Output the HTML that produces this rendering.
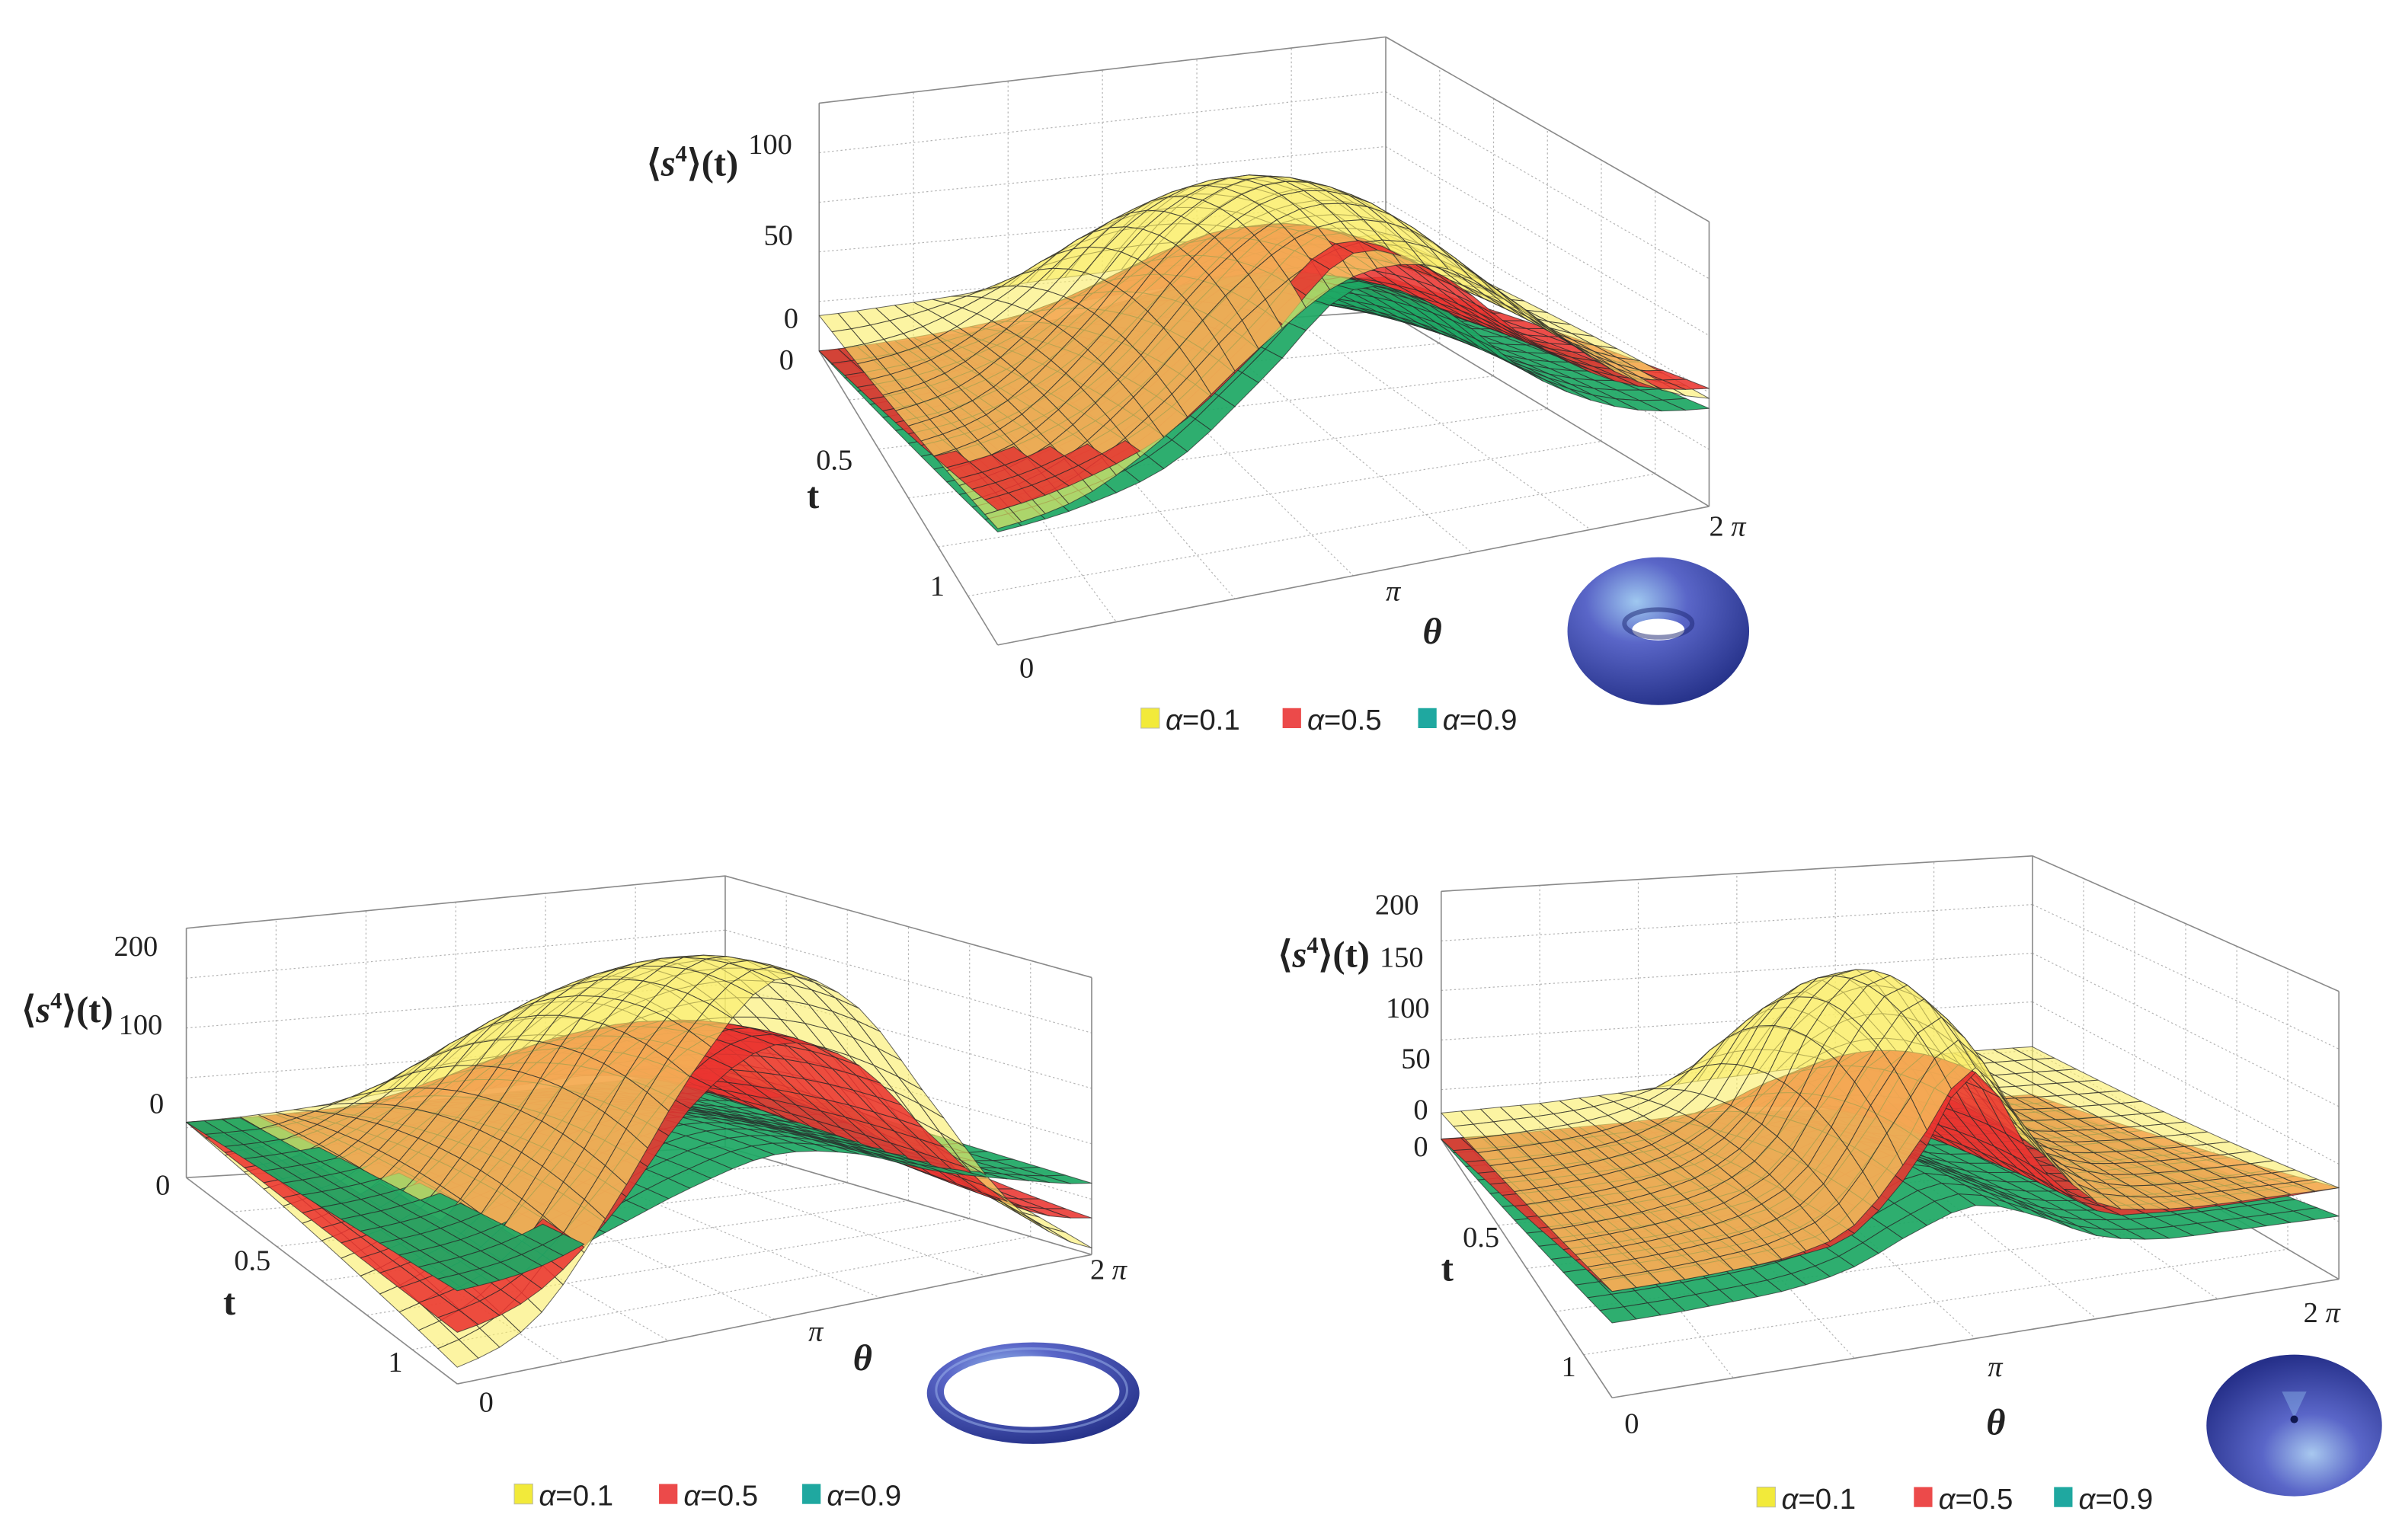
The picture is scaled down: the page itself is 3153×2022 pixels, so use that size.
<!DOCTYPE html>
<html><head><meta charset="utf-8"><title>s4 surfaces</title>
<style>
html,body{margin:0;padding:0;background:#fff;}
svg{display:block;}
.tk{font-family:"Liberation Serif",serif;font-size:19px;fill:#222;}
.ax{font-family:"Liberation Serif",serif;font-size:24px;font-weight:bold;fill:#222;}
.lg{font-family:"Liberation Sans",sans-serif;font-size:19px;fill:#222;}
</style></head>
<body>
<svg id="fig" xmlns="http://www.w3.org/2000/svg" width="3153" height="2022" viewBox="0 0 1560 1000.4" preserveAspectRatio="none">
<defs>
<radialGradient id="tg1" cx="0.38" cy="0.3" r="0.8"><stop offset="0" stop-color="#9fc8f0"/><stop offset="0.35" stop-color="#5a66c8"/><stop offset="1" stop-color="#1e2a80"/></radialGradient>
<radialGradient id="tg2" cx="0.6" cy="0.7" r="0.7"><stop offset="0" stop-color="#a8c8ef"/><stop offset="0.4" stop-color="#5a66c8"/><stop offset="1" stop-color="#26308a"/></radialGradient>
</defs>
<g id="panels"></g>

<g>
<text class="ax" x="420" y="114">⟨<tspan font-style="italic">s</tspan><tspan font-size="15" dy="-9">4</tspan><tspan dy="9">⟩(t)</tspan></text>
<text class="tk" x="486" y="100">100</text>
<text class="tk" x="496" y="159">50</text>
<text class="tk" x="509" y="213">0</text>
<text class="tk" x="506" y="240">0</text>
<text class="tk" x="530" y="305">0.5</text>
<text class="tk" x="604" y="387">1</text>
<text class="ax" x="524" y="330">t</text>
<text class="tk" x="662" y="440">0</text>
<text class="tk" x="900" y="390" font-style="italic">π</text>
<text class="tk" x="1110" y="348">2 <tspan font-style="italic">π</tspan></text>
<text class="ax" x="924" y="418" font-style="italic">θ</text>
<g><ellipse cx="1077" cy="410" rx="59" ry="48" fill="url(#tg1)"/><ellipse cx="1077" cy="409" rx="17" ry="7" fill="#fff"/><ellipse cx="1077" cy="405" rx="22" ry="9" fill="none" stroke="#1a2370" stroke-width="3" opacity="0.5"/></g>
<g>
<rect x="741" y="460" width="12" height="13" fill="#f2ea3a" stroke="#bba" stroke-width="0.5"/><text class="lg" x="757" y="474"><tspan font-style="italic">α</tspan>=0.1</text>
<rect x="833" y="460" width="12" height="13" fill="#ec4a4a"/><text class="lg" x="849" y="474"><tspan font-style="italic">α</tspan>=0.5</text>
<rect x="921" y="460" width="12" height="13" fill="#1fa8a0"/><text class="lg" x="937" y="474"><tspan font-style="italic">α</tspan>=0.9</text>
</g></g>

<g>
<text class="ax" x="14" y="664">⟨<tspan font-style="italic">s</tspan><tspan font-size="15" dy="-9">4</tspan><tspan dy="9">⟩(t)</tspan></text>
<text class="tk" x="74" y="621">200</text>
<text class="tk" x="77" y="672">100</text>
<text class="tk" x="97" y="723">0</text>
<text class="tk" x="101" y="776">0</text>
<text class="tk" x="152" y="825">0.5</text>
<text class="tk" x="252" y="891">1</text>
<text class="ax" x="145" y="854">t</text>
<text class="tk" x="311" y="917">0</text>
<text class="tk" x="525" y="871" font-style="italic">π</text>
<text class="tk" x="708" y="831">2 <tspan font-style="italic">π</tspan></text>
<text class="ax" x="554" y="890" font-style="italic">θ</text>
<g><ellipse cx="671" cy="905" rx="69" ry="33" fill="url(#tg1)"/><ellipse cx="670" cy="904" rx="57" ry="23" fill="#fff"/><ellipse cx="670" cy="903" rx="62" ry="27" fill="none" stroke="#9fb8ee" stroke-width="1.5" opacity="0.5"/></g>
<g>
<rect x="334" y="964" width="12" height="13" fill="#f2ea3a" stroke="#bba" stroke-width="0.5"/><text class="lg" x="350" y="978"><tspan font-style="italic">α</tspan>=0.1</text>
<rect x="428" y="964" width="12" height="13" fill="#ec4a4a"/><text class="lg" x="444" y="978"><tspan font-style="italic">α</tspan>=0.5</text>
<rect x="521" y="964" width="12" height="13" fill="#1fa8a0"/><text class="lg" x="537" y="978"><tspan font-style="italic">α</tspan>=0.9</text>
</g></g>

<g>
<text class="ax" x="830" y="628">⟨<tspan font-style="italic">s</tspan><tspan font-size="15" dy="-9">4</tspan><tspan dy="9">⟩(t)</tspan></text>
<text class="tk" x="893" y="594">200</text>
<text class="tk" x="896" y="628">150</text>
<text class="tk" x="900" y="661">100</text>
<text class="tk" x="910" y="694">50</text>
<text class="tk" x="918" y="727">0</text>
<text class="tk" x="918" y="751">0</text>
<text class="tk" x="950" y="810" font-size="16">0.5</text>
<text class="tk" x="1014" y="894">1</text>
<text class="ax" x="936" y="832">t</text>
<text class="tk" x="1055" y="931">0</text>
<text class="tk" x="1291" y="894" font-style="italic">π</text>
<text class="tk" x="1496" y="859">2 <tspan font-style="italic">π</tspan></text>
<text class="ax" x="1290" y="932" font-style="italic">θ</text>
<g><ellipse cx="1490" cy="926" rx="57" ry="46" fill="url(#tg2)"/><path d="M1482 904 L1490 921 L1498 904 Z" fill="#8fb8ec" opacity="0.45"/><circle cx="1490" cy="922" r="2.5" fill="#101850"/></g>
<g>
<rect x="1141" y="966" width="12" height="13" fill="#f2ea3a" stroke="#bba" stroke-width="0.5"/><text class="lg" x="1157" y="980"><tspan font-style="italic">α</tspan>=0.1</text>
<rect x="1243" y="966" width="12" height="13" fill="#ec4a4a"/><text class="lg" x="1259" y="980"><tspan font-style="italic">α</tspan>=0.5</text>
<rect x="1334" y="966" width="12" height="13" fill="#1fa8a0"/><text class="lg" x="1350" y="980"><tspan font-style="italic">α</tspan>=0.9</text>
</g></g>
</svg>
<script>
// t sample rows for every surface
const tRows = [0, 0.5, 1];
// top panel (heights along theta 0..2π)
const topYellowT0 = [23, 26, 30, 35, 38, 42, 45, 48, 50];
const topYellowT5 = [45, 60, 100, 150, 172, 160, 120, 80, 60];
const topYellowT1 = [70, 80, 110, 150, 180, 175, 135, 90, 65];
const topRedT0 = [0, 3, 8, 15, 22, 25, 25, 24, 22];
const topRedT5 = [40, 48, 70, 110, 140, 125, 90, 62, 50];
const topRedT1 = [81, 90, 110, 150, 194, 170, 120, 85, 71];
const topGreenT0 = [0, 2, 5, 8, 12, 14, 14, 13, 12];
const topGreenT5 = [34, 40, 55, 85, 110, 100, 72, 50, 40];
const topGreenT1 = [68, 74, 90, 130, 172, 150, 100, 70, 59];
// bottom-left panel
const blYellowT0 = [36, 38, 42, 48, 52, 56, 58, 60, 61];
const blYellowT5 = [25, 45, 95, 150, 170, 155, 110, 60, 35];
const blYellowT1 = [10, 30, 90, 160, 204, 180, 110, 40, 4];
const blRedT0 = [36, 37, 39, 42, 45, 48, 52, 56, 60];
const blRedT5 = [33, 45, 80, 120, 135, 120, 80, 45, 35];
const blRedT1 = [31, 45, 85, 140, 165, 145, 90, 40, 22];
const blGreenT0 = [36, 37, 38, 40, 42, 44, 46, 48, 50];
const blGreenT5 = [46, 50, 60, 75, 82, 75, 62, 50, 46];
const blGreenT1 = [56, 60, 75, 90, 99, 90, 70, 55, 43];
// bottom-right panel
const brYellowT0 = [17, 18, 19, 21, 23, 26, 28, 30, 31, 32, 33, 34, 34];
const brYellowT5 = [40, 42, 46, 55, 80, 140, 162, 120, 70, 50, 45, 43, 42];
const brYellowT1 = [64, 64, 65, 68, 80, 120, 163, 110, 70, 60, 57, 56, 55];
const brRedT0 = [0, 0, 1, 2, 3, 5, 8, 6, 4, 3, 3, 3, 3];
const brRedT5 = [32, 32, 33, 36, 45, 80, 110, 70, 40, 32, 30, 29, 28];
const brRedT1 = [64, 64, 65, 67, 75, 110, 160, 100, 65, 58, 56, 55, 55];
const brGreenT0 = [0, 0, 0, 1, 2, 3, 5, 3, 2, 1, 1, 1, 1];
const brGreenT5 = [22, 22, 23, 25, 30, 45, 55, 42, 28, 23, 21, 20, 20];
const brGreenT1 = [45, 45, 46, 48, 55, 70, 80, 68, 50, 42, 40, 39, 38];

const NS = 'http://www.w3.org/2000/svg';
const layerAlpha = ['0.9', '0.5', '0.1'];
const layerColor = ['rgba(30,168,100,0.93)', 'rgba(234,52,48,0.88)', 'rgba(250,238,105,0.62)'];

const panels = [
  {name: 'top', P00: [532, 228], P10: [900, 202], P01: [648, 419], P11: [1110, 329], H: [161, 178, 190, 185],
   surf: [[topGreenT0, topGreenT5, topGreenT1], [topRedT0, topRedT5, topRedT1], [topYellowT0, topYellowT5, topYellowT1]]},
  {name: 'bottom-left', P00: [121, 765], P10: [471, 745], P01: [297, 899], P11: [709, 815], H: [162, 176, 185, 180],
   surf: [[blGreenT0, blGreenT5, blGreenT1], [blRedT0, blRedT5, blRedT1], [blYellowT0, blYellowT5, blYellowT1]]},
  {name: 'bottom-right', P00: [936, 740], P10: [1320, 714], P01: [1047, 908], P11: [1519, 831], H: [161, 158, 190, 187],
   surf: [[brGreenT0, brGreenT5, brGreenT1], [brRedT0, brRedT5, brRedT1], [brYellowT0, brYellowT5, brYellowT1]]}
];

function bil(a, b, c, d, u, v) { return a * (1 - u) * (1 - v) + b * u * (1 - v) + c * (1 - u) * v + d * u * v; }
function floorPt(p, u, v) {
  return [bil(p.P00[0], p.P10[0], p.P01[0], p.P11[0], u, v), bil(p.P00[1], p.P10[1], p.P01[1], p.P11[1], u, v)];
}
function topH(p, u, v) { return bil(p.H[0], p.H[1], p.H[2], p.H[3], u, v); }
function cr(arr, u) {
  const n = arr.length - 1, x = u * n;
  let i = Math.floor(x); if (i >= n) i = n - 1; const f = x - i;
  const p0 = arr[Math.max(i - 1, 0)], p1 = arr[i], p2 = arr[i + 1], p3 = arr[Math.min(i + 2, n)];
  return 0.5 * ((2 * p1) + (-p0 + p2) * f + (2 * p0 - 5 * p1 + 4 * p2 - p3) * f * f + (-p0 + 3 * p1 - 3 * p2 + p3) * f * f * f);
}
function val(rows, u, t) {
  const a = cr(rows[0], u), b = cr(rows[1], u), c = cr(rows[2], u);
  const t0 = tRows[0], t1 = tRows[1], t2 = tRows[2];
  return a * (t - t1) * (t - t2) / ((t0 - t1) * (t0 - t2)) + b * (t - t0) * (t - t2) / ((t1 - t0) * (t1 - t2)) + c * (t - t0) * (t - t1) / ((t2 - t0) * (t2 - t1));
}
function proj(p, u, t, z) { const f = floorPt(p, u, t); return [f[0], f[1] - z * (1 + 0.08 * t)]; }
function line(g, a, b, cls) {
  const l = document.createElementNS(NS, 'line');
  l.setAttribute('x1', a[0].toFixed(1)); l.setAttribute('y1', a[1].toFixed(1));
  l.setAttribute('x2', b[0].toFixed(1)); l.setAttribute('y2', b[1].toFixed(1));
  if (cls === 'grid') { l.setAttribute('stroke', '#b5b5b5'); l.setAttribute('stroke-width', '0.6'); l.setAttribute('stroke-dasharray', '1.2 1.6'); }
  else { l.setAttribute('stroke', '#8a8a8a'); l.setAttribute('stroke-width', '0.8'); }
  
  
  g.appendChild(l);
}
const root = document.getElementById('panels');
panels.forEach(p => {
  const g = document.createElementNS(NS, 'g');
  
  
  root.appendChild(g);
  const top = (u, v) => { const f = floorPt(p, u, v); return [f[0], f[1] - topH(p, u, v)]; };
  for (let k = 1; k < 6; k++) {
    const fr = k / 6;
    line(g, floorPt(p, fr, 0), top(fr, 0), 'grid');
    line(g, floorPt(p, 1, fr), top(1, fr), 'grid');
    line(g, floorPt(p, fr, 0), floorPt(p, fr, 1), 'grid');
    line(g, floorPt(p, 0, fr), floorPt(p, 1, fr), 'grid');
  }
  for (let k = 1; k < 5; k++) {
    const fr = k / 5;
    const a = floorPt(p, 0, 0), b = floorPt(p, 1, 0), c = floorPt(p, 1, 1);
    const ha = topH(p, 0, 0) * fr, hb = topH(p, 1, 0) * fr, hc = topH(p, 1, 1) * fr;
    line(g, [a[0], a[1] - ha], [b[0], b[1] - hb], 'grid');
    line(g, [b[0], b[1] - hb], [c[0], c[1] - hc], 'grid');
  }
  line(g, floorPt(p, 0, 0), top(0, 0), 'edge');
  line(g, floorPt(p, 1, 0), top(1, 0), 'edge');
  line(g, floorPt(p, 1, 1), top(1, 1), 'edge');
  line(g, top(0, 0), top(1, 0), 'edge');
  line(g, top(1, 0), top(1, 1), 'edge');
  line(g, floorPt(p, 0, 0), floorPt(p, 1, 0), 'edge');
  line(g, floorPt(p, 1, 0), floorPt(p, 1, 1), 'edge');
  line(g, floorPt(p, 0, 0), floorPt(p, 0, 1), 'edge');
  line(g, floorPt(p, 0, 1), floorPt(p, 1, 1), 'edge');
  const NU = 30, NT = 14;
  const sg = document.createElementNS(NS, 'g');
  
  
  g.appendChild(sg);
  const cells = [];
  for (let i = 0; i < NT; i++) for (let j = 0; j < NU; j++) {
    const u0 = j / NU, u1 = (j + 1) / NU, t0 = i / NT, t1 = (i + 1) / NT;
    const fc = floorPt(p, (u0 + u1) / 2, (t0 + t1) / 2);
    const layers = p.surf.map((rows, si) => {
      const z00 = val(rows, u0, t0), z10 = val(rows, u1, t0), z01 = val(rows, u0, t1), z11 = val(rows, u1, t1);
      return {si, zc: (z00 + z10 + z01 + z11) / 4,
        pts: [proj(p, u0, t0, z00), proj(p, u1, t0, z10), proj(p, u1, t1, z11), proj(p, u0, t1, z01)]};
    });
    layers.sort((a, b) => a.zc - b.zc);
    cells.push({depth: fc[1], layers});
  }
  cells.sort((a, b) => a.depth - b.depth);
  cells.forEach(c => c.layers.forEach(q => {
    const el = document.createElementNS(NS, 'path');
    el.setAttribute('d', 'M' + q.pts.map(a => a[0].toFixed(1) + ' ' + a[1].toFixed(1)).join('L') + 'Z');
    el.setAttribute('fill', layerColor[q.si]);
    el.setAttribute('stroke', 'rgba(40,40,40,0.7)');
    el.setAttribute('stroke-width', '0.5');
    el.setAttribute('stroke-linejoin', 'round');
    
    
    sg.appendChild(el);
  }));
});
</script>
</body></html>
